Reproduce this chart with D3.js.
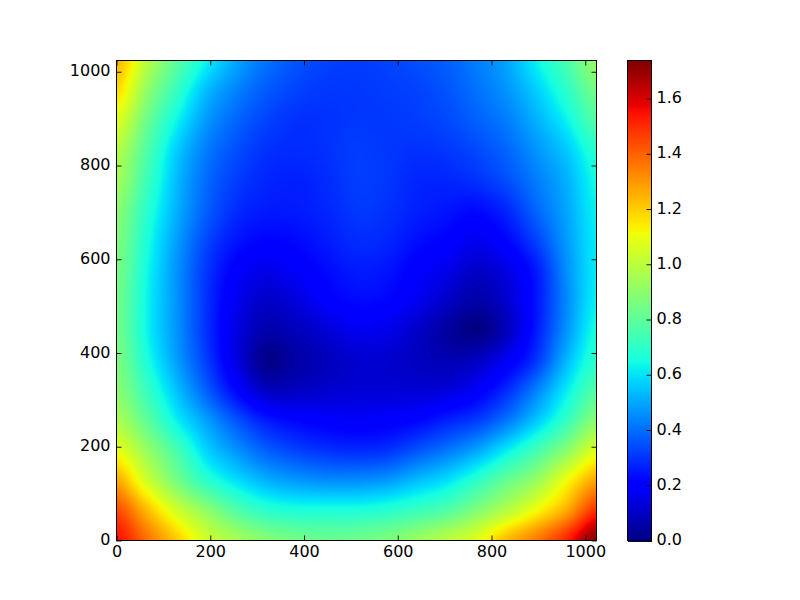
<!DOCTYPE html>
<html><head><meta charset="utf-8">
<script src="https://cdn.jsdelivr.net/npm/d3@7"></script>
<style>html,body{margin:0;padding:0;background:#fff}svg{display:block}
text{font-family:"DejaVu Sans";}</style></head><body>
<svg id="c" width="800" height="600"></svg>
<script>
const gridX = [0,64,128,192,256,320,384,448,512,576,640,704,768,832,896,960,1024];
const gridY = [1024,960,896,832,768,704,640,576,512,448,384,320,256,192,128,64,0];
const gridValues = [
[1.25,1.00,.80,.63,.50,.41,.36,.33,.32,.33,.35,.38,.43,.50,.63,.76,.92],
[1.18,.92,.72,.54,.44,.37,.33,.31,.31,.32,.33,.36,.41,.47,.57,.70,.85],
[1.08,.84,.64,.48,.39,.33,.30,.30,.31,.31,.32,.34,.38,.43,.52,.63,.78],
[.99,.78,.57,.43,.35,.30,.29,.30,.32,.31,.30,.31,.34,.39,.47,.56,.69],
[.95,.74,.54,.40,.32,.28,.27,.29,.32,.31,.28,.28,.30,.35,.43,.52,.65],
[.90,.70,.52,.38,.29,.26,.26,.28,.31,.30,.27,.25,.23,.28,.39,.50,.63],
[.88,.67,.49,.34,.25,.22,.23,.26,.29,.28,.24,.21,.17,.22,.33,.48,.62],
[.86,.65,.47,.31,.20,.16,.19,.23,.26,.25,.20,.16,.11,.15,.26,.46,.62],
[.85,.64,.47,.30,.17,.11,.14,.20,.23,.22,.17,.11,.06,.12,.25,.45,.63],
[.85,.64,.47,.30,.15,.07,.09,.13,.17,.16,.11,.05,.01,.09,.26,.47,.66],
[.87,.67,.49,.32,.15,.02,.06,.09,.12,.12,.10,.08,.10,.18,.31,.53,.70],
[.90,.73,.55,.38,.22,.10,.10,.12,.13,.13,.13,.14,.19,.29,.44,.62,.78],
[.97,.81,.63,.49,.36,.26,.22,.20,.19,.20,.22,.27,.32,.42,.56,.72,.90],
[1.10,.93,.76,.58,.47,.38,.33,.30,.29,.30,.36,.42,.50,.62,.75,.90,1.08],
[1.27,1.05,.86,.70,.60,.52,.48,.46,.46,.48,.54,.60,.70,.82,.93,1.11,1.28],
[1.45,1.24,1.05,.91,.78,.70,.67,.67,.67,.69,.73,.78,.88,.99,1.12,1.27,1.50],
[1.56,1.38,1.21,1.05,.96,.89,.85,.83,.84,.87,.93,1.00,1.08,1.24,1.36,1.52,1.74]
];
const axisTicks = [0,200,400,600,800,1000];
const colorTicks = [0,0.2,0.4,0.6,0.8,1.0,1.2,1.4,1.6];
const colorMax = 1.7376;

const plot = {l:116.5,r:596.5,t:60.5,b:540.5};
const bar = {l:627.5,r:651.5};
const x = d3.scaleLinear().domain([0,1024]).range([plot.l,plot.r]);
const y = d3.scaleLinear().domain([0,1024]).range([plot.b,plot.t]);
const yc = d3.scaleLinear().domain([0,colorMax]).range([plot.b,plot.t]);

const jetR = d3.scaleLinear().domain([0,.35,.66,.89,1]).range([0,0,255,255,128]).clamp(true);
const jetG = d3.scaleLinear().domain([0,.125,.375,.64,.91,1]).range([0,0,255,255,0,0]).clamp(true);
const jetB = d3.scaleLinear().domain([0,.11,.34,.65,1]).range([128,255,255,0,0]).clamp(true);
const norm = d3.scaleLinear().domain([0,colorMax]).range([0,1]).clamp(true);
const jet = v => { const t = norm(v); return [jetR(t),jetG(t),jetB(t)]; };

// bicubic image resampling of the value matrix (as an image display would do)
const cr = (a,b,c,d,t)=>b+0.5*t*(c-a+t*(2*a-5*b+4*c-d+t*(3*(b-c)+d-a)));
const nR = gridValues.length, nC = gridX.length;
const at = (r,c)=>gridValues[Math.max(0,Math.min(nR-1,r))][Math.max(0,Math.min(nC-1,c))];
const cellX = d3.scaleLinear().domain(d3.extent(gridX)).range([0,nC-1]);
const cellY = d3.scaleLinear().domain([gridY[0],gridY[nR-1]]).range([0,nR-1]);
function sample(dx,dy){
  const fx=cellX(dx), fy=cellY(dy);
  const c=Math.min(nC-2,Math.floor(fx)), r=Math.min(nR-2,Math.floor(fy));
  const tx=fx-c, ty=fy-r, row=[];
  for(let i=-1;i<=2;i++) row.push(cr(at(r+i,c-1),at(r+i,c),at(r+i,c+1),at(r+i,c+2),tx));
  return cr(row[0],row[1],row[2],row[3],ty);
}
const W=480,H=480;
const cv=document.createElement('canvas');cv.width=W;cv.height=H;
const ctx=cv.getContext('2d');const img=ctx.createImageData(W,H);
const px=d3.scaleLinear().domain([0,W]).range([0,1024]);
const py=d3.scaleLinear().domain([0,H]).range([1024,0]);
for(let j=0;j<H;j++)for(let i=0;i<W;i++){
  const col=jet(sample(px(i+.5),py(j+.5)));const k=4*(j*W+i);
  img.data[k]=col[0];img.data[k+1]=col[1];img.data[k+2]=col[2];img.data[k+3]=255;
}
ctx.putImageData(img,0,0);

const svg=d3.select('#c');
svg.append('image').attr('x',plot.l).attr('y',plot.t).attr('width',W).attr('height',H)
  .attr('href',cv.toDataURL());

// colour bar
const levels=d3.range(256);
const lv=d3.scaleLinear().domain([0,256]).range([0,colorMax]);
svg.append('g').attr('shape-rendering','crispEdges').selectAll('rect').data(levels).join('rect')
  .attr('x',bar.l).attr('width',bar.r-bar.l)
  .attr('y',d=>yc(lv(d+1))).attr('height',d=>yc(lv(d))-yc(lv(d+1))+1)
  .attr('fill',d=>{const c=jet(lv(d+.5));return `rgb(${c[0]},${c[1]},${c[2]})`;});

function style(g,hide){
  g.select('.domain').remove();
  g.selectAll('line').attr('stroke','#000').attr('stroke-width',.9);
  g.selectAll('text').attr('fill','#000').style('font-size','16px');
  if(hide) g.selectAll('text').remove();
}
const up = g => g.selectAll('text').attr('dy','0.26em');
const T=-5;
svg.append('g').attr('transform',`translate(0,${plot.b})`)
  .call(d3.axisBottom(x).tickValues(axisTicks).tickFormat(d3.format('d')).tickSize(T).tickPadding(5)).call(style);
svg.append('g').attr('transform',`translate(0,${plot.t})`)
  .call(d3.axisTop(x).tickValues(axisTicks).tickSize(T)).call(g=>style(g,true));
svg.append('g').attr('transform',`translate(${plot.l},0)`)
  .call(d3.axisLeft(y).tickValues(axisTicks).tickFormat(d3.format('d')).tickSize(T).tickPadding(6)).call(style).call(up);
svg.append('g').attr('transform',`translate(${plot.r},0)`)
  .call(d3.axisRight(y).tickValues(axisTicks).tickSize(T)).call(g=>style(g,true));
svg.append('g').attr('transform',`translate(${bar.r},0)`)
  .call(d3.axisRight(yc).tickValues(colorTicks).tickFormat(d3.format('.1f')).tickSize(T).tickPadding(5)).call(style).call(up);

svg.append('rect').attr('x',plot.l).attr('y',plot.t).attr('width',W).attr('height',H)
  .attr('fill','none').attr('stroke','#000').attr('stroke-width',1);
svg.append('rect').attr('x',bar.l).attr('y',plot.t).attr('width',bar.r-bar.l).attr('height',H)
  .attr('fill','none').attr('stroke','#000').attr('stroke-width',1);
</script></body></html>
